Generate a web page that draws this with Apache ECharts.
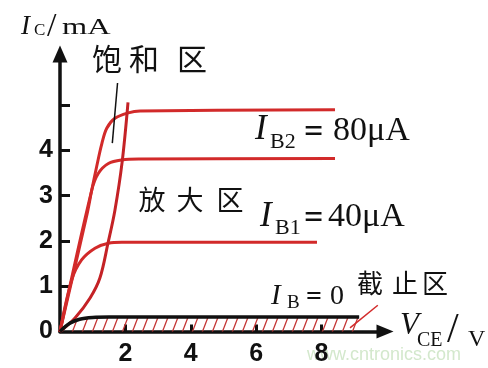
<!DOCTYPE html>
<html>
<head>
<meta charset="utf-8">
<script src="https://cdn.jsdelivr.net/npm/echarts@6/dist/echarts.min.js"></script>
<style>
  html, body { margin: 0; background: #fff; }
  #chart { width: 488px; height: 368px; }
</style>
</head>
<body>
<div id="chart"></div>
<script>
// V_CE in volts, I_C in mA
const xTickValues = [2, 4, 6, 8]
const yLabelValues = [0, 1, 2, 3, 4]
const yTickValues = [1, 2, 3, 4, 5]

const ib2Curve = [[0, 0], [0.82, 2.57], [0.97, 3.12], [1.12, 3.64], [1.28, 4.15], [1.43, 4.49], [1.68, 4.71], [2.09, 4.83], [2.45, 4.87], [8.41, 4.9]]
const ibMidCurve = [[0, 0], [0.97, 3.12], [1.17, 3.49], [1.48, 3.71], [1.89, 3.79], [2.45, 3.81], [8.41, 3.82]]
const ib1Curve = [[0, 0], [0.36, 1.14], [0.66, 1.58], [1.07, 1.84], [1.48, 1.95], [1.89, 1.97], [7.86, 1.97]]
const ib0Curve = [[0, 0], [0.3, 0.18], [0.6, 0.27], [1.0, 0.31], [1.5, 0.32], [9.15, 0.32]]
const satBoundary = [[0, 0], [0.46, 0.3], [0.92, 0.74], [1.22, 1.18], [1.47, 1.96], [1.68, 2.68], [1.9, 3.74], [2.08, 5.06]]
const satPointer = [[1.76, 5.49], [1.6, 4.16]]
const cutoffPointer = [[8.87, 0.08], [9.72, 0.58]]

const RED = '#d22a2a'
const INK = '#111'
const SERIF = '"Liberation Serif", "DejaVu Serif", serif'
const CJK = '"Noto Sans CJK SC", sans-serif'
const SANS = '"Liberation Sans", Arial, sans-serif'

// diagonal hatch tile for the cut-off region
function hatchTile() {
  const c = document.createElement('canvas')
  c.width = 10
  c.height = 26
  const ctx = c.getContext('2d')
  ctx.strokeStyle = '#c43434'
  ctx.lineWidth = 1.3
  ctx.beginPath()
  ctx.moveTo(-1, 28.6)
  ctx.lineTo(11, -2.6)
  ctx.stroke()
  return c
}

function txt(text, x, y, size, family, extra) {
  return {
    type: 'text',
    x: x,
    y: y,
    silent: true,
    style: Object.assign({
      text: text,
      fontSize: size,
      fontFamily: family,
      fill: INK,
      textAlign: 'left',
      textVerticalAlign: 'middle',
    }, extra || {}),
  }
}

function curve(data, color, width, z) {
  return {
    type: 'line',
    data: data,
    smooth: 0.35,
    symbol: 'none',
    silent: true,
    z: z || 2,
    lineStyle: { color: color, width: width },
  }
}

const chart = echarts.init(document.getElementById('chart'))

const mA = txt('mA', 62, 28, 24, SERIF)
mA.scaleX = 1.35

chart.setOption({
  animation: false,
  grid: { left: 60, right: 103, top: 54, bottom: 36.5, outerBoundsMode: 'none' },
  xAxis: {
    type: 'value',
    min: 0,
    max: 9.94,
    splitLine: { show: false },
    axisLine: {
      lineStyle: { color: INK, width: 3.5 },
      symbol: ['none', 'triangle'],
      symbolSize: [14, 17],
    },
    axisTick: {
      show: true,
      inside: true,
      length: 7,
      customValues: xTickValues,
      lineStyle: { color: INK, width: 3 },
    },
    axisLabel: {
      customValues: xTickValues,
      color: INK,
      fontSize: 25,
      fontWeight: 'bold',
      fontFamily: SANS,
      margin: 10,
    },
  },
  yAxis: {
    type: 'value',
    min: 0,
    max: 6.13,
    splitLine: { show: false },
    axisLine: {
      lineStyle: { color: INK, width: 3.5 },
      symbol: ['none', 'triangle'],
      symbolSize: [15, 17],
    },
    axisTick: {
      show: true,
      inside: true,
      length: 10,
      customValues: yTickValues,
      lineStyle: { color: INK, width: 3 },
    },
    axisLabel: {
      customValues: yLabelValues,
      color: INK,
      fontSize: 25,
      fontWeight: 'bold',
      fontFamily: SANS,
      margin: 7,
      padding: [8, 0, 0, 0],
    },
  },
  series: [
    Object.assign(curve(ib0Curve, INK, 3.5, 3), {
      areaStyle: { color: { image: hatchTile(), repeat: 'repeat' }, opacity: 1 },
    }),
    curve(ib1Curve, RED, 3),
    curve(ibMidCurve, RED, 3),
    curve(ib2Curve, RED, 3),
    curve(satBoundary, '#c42226', 3),
    { type: 'line', data: satPointer, symbol: 'none', silent: true, lineStyle: { color: INK, width: 1.5 } },
    { type: 'line', data: cutoffPointer, symbol: 'none', silent: true, lineStyle: { color: RED, width: 1.5 } },
  ],
  graphic: [
    // I_C / mA
    txt('I', 21, 27, 27, SERIF, { fontStyle: 'italic' }),
    txt('C', 34, 31, 17, SERIF),
    txt('/', 47, 27, 34, SERIF),
    mA,
    // V_CE / V
    txt('V', 400, 326, 31, SERIF, { fontStyle: 'italic' }),
    txt('CE', 417, 341, 20, SERIF),
    txt('/', 447, 331, 42, SERIF),
    txt('V', 468, 340, 24, SERIF),
    // I_B2 = 80μA
    txt('I', 255, 130, 35, SERIF, { fontStyle: 'italic' }),
    txt('B2', 270, 142, 22, SERIF),
    txt('=', 304, 133, 34, SERIF, { fontWeight: 'bold' }),
    txt('80μA', 333, 131, 34, SERIF),
    // I_B1 = 40μA
    txt('I', 260, 217, 35, SERIF, { fontStyle: 'italic' }),
    txt('B1', 275, 228, 22, SERIF),
    txt('=', 304, 219, 34, SERIF, { fontWeight: 'bold' }),
    txt('40μA', 328, 217, 34, SERIF),
    // I_B = 0
    txt('I', 271, 296, 29, SERIF, { fontStyle: 'italic' }),
    txt('B', 287, 303, 19, SERIF),
    txt('=', 306, 298, 28, SERIF, { fontWeight: 'bold' }),
    txt('0', 330, 297, 28, SERIF),
    // region labels
    txt('饱', 107, 59, 30, CJK, { textAlign: 'center' }),
    txt('和', 144, 59, 30, CJK, { textAlign: 'center' }),
    txt('区', 192, 59, 30, CJK, { textAlign: 'center' }),
    txt('放', 152, 200, 27, CJK, { textAlign: 'center' }),
    txt('大', 190, 200, 27, CJK, { textAlign: 'center' }),
    txt('区', 230, 200, 27, CJK, { textAlign: 'center' }),
    txt('截', 370, 283, 26, CJK, { textAlign: 'center' }),
    txt('止', 405, 283, 26, CJK, { textAlign: 'center' }),
    txt('区', 435, 283, 26, CJK, { textAlign: 'center' }),
    // watermark
    txt('www.cntronics.com', 307, 355, 18, SANS, { fill: '#d3e8cc' }),
  ],
})
</script>
</body>
</html>
